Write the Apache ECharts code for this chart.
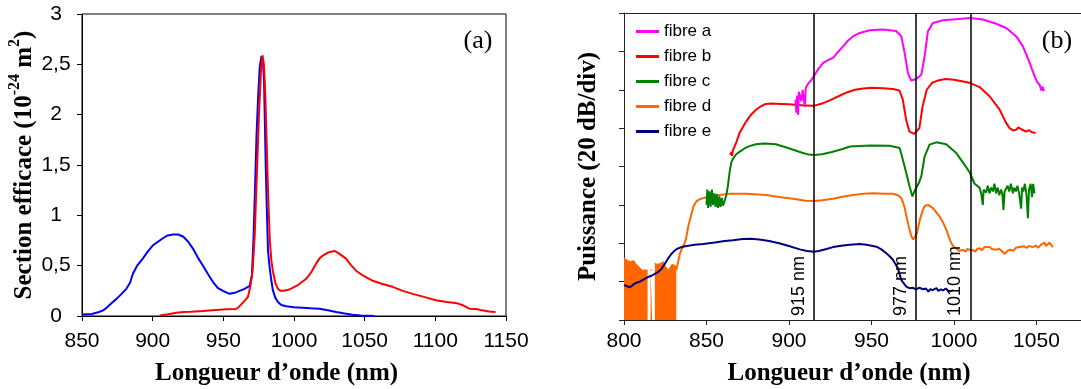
<!DOCTYPE html>
<html><head><meta charset="utf-8">
<script src="https://cdn.jsdelivr.net/npm/echarts@6/dist/echarts.min.js"></script>
<style>html,body{margin:0;padding:0;background:#fff}#c{width:1081px;height:389px}</style>
</head><body><div id="c"></div>
<script>
// ---------- Panel (a): cross sections (10^-24 m^2) ----------
const absX = [850,857,862,865,868,871,874.4,878,881.4,884,886,889,893,896.5,900,904,907,910.5,914.4,918,921.5,925,928.5,932,935.6,939,942.6,946,949.7,954.4,958,961.5,965,968.6,970.2,971.3,972.5,973.5,974.7,975.8,977,978,978.8,979.4,980,980.6,981.6,982.7,984,985,986.8,988.6,991,994.5,1000,1006.2,1012,1018,1024,1029.8,1036,1041.5,1047,1053,1057];
const absY = [0.015,0.02,0.04,0.056,0.09,0.13,0.17,0.22,0.27,0.33,0.42,0.5,0.57,0.64,0.7,0.74,0.77,0.8,0.81,0.81,0.79,0.74,0.67,0.58,0.5,0.42,0.34,0.28,0.25,0.22,0.23,0.25,0.27,0.3,0.4,0.75,1.3,1.8,2.2,2.48,2.58,2.52,2.35,1.91,1.5,1.15,0.65,0.49,0.35,0.26,0.18,0.14,0.11,0.096,0.088,0.083,0.078,0.073,0.058,0.04,0.025,0.013,0.006,0.003,0.0];
const emiX = [905,910,916.7,922,927,935.6,942,947.4,952,959,961,963,965,967.4,969.2,970.7,972.2,973.7,975.2,976.7,977.7,978.7,979.7,980.7,981.7,982.9,984,985,986.8,988.6,990.5,993,996,999,1003,1008.6,1012,1015.6,1018,1020.4,1024,1028.6,1032,1036.8,1040,1043.9,1049,1055.7,1062,1069.8,1077,1084,1092,1100.4,1108,1114.5,1119,1124,1129,1133,1138,1142.6];
const emiY = [0.005,0.015,0.033,0.04,0.042,0.05,0.058,0.063,0.066,0.07,0.09,0.12,0.15,0.19,0.3,0.45,0.8,1.4,2.0,2.45,2.59,2.5,2.2,1.7,1.2,0.75,0.55,0.45,0.33,0.27,0.25,0.25,0.26,0.28,0.31,0.37,0.43,0.52,0.57,0.6,0.63,0.646,0.62,0.57,0.51,0.45,0.4,0.35,0.32,0.29,0.25,0.22,0.19,0.156,0.14,0.13,0.11,0.073,0.07,0.056,0.045,0.04];
const aXTicks = {min:850, max:1150, step:50};
const aYTicks = {min:0, max:3, step:0.5};

// ---------- Panel (b): spectra (divisions of 20 dB) ----------
const fibA_X = [904,904.5,905,905.5,906,906.8,907.5,908.3,909,909.6,910.2,911,912,913.5,915,918,920.7,923,926.7,929,932.8,935.5,938.8,942.9,948.9,957,965,968.1,970.1,972.1,974.1,977.1,980.2,982.2,984.2,987.2,993.3,1001.4,1009.5,1017.6,1025.6,1031.7,1037.8,1041.8,1045.9,1048.9,1050.5,1051.9,1053,1053.6,1054.6];
const fibA_Y = [5.75,5.4,5.85,5.35,5.95,6.0,5.7,6.0,6.05,5.55,6.05,6.1,6.18,6.25,6.35,6.55,6.7,6.76,6.83,6.95,7.13,7.27,7.39,7.48,7.55,7.57,7.53,7.39,6.96,6.44,6.24,6.28,6.39,6.87,7.52,7.74,7.81,7.84,7.87,7.83,7.72,7.61,7.39,7.13,6.7,6.35,6.2,6.13,5.98,6.08,5.96];
const fibB_X = [864.5,865,865.5,866,868,870,872,874,877,880,883,886,890,895,900,905,910,915,920,925,930,935,940,945,950,957,963,967,969,971,973,976,979,981,983.5,987,991,995,1000,1004,1009.5,1015.5,1021.6,1027.7,1031.7,1033.7,1035.8,1037.8,1039,1040.8,1042,1043.8,1045.5,1047,1049.5];
const fibB_Y = [4.3,4.38,4.28,4.42,4.62,4.87,5.02,5.17,5.35,5.48,5.57,5.63,5.64,5.63,5.62,5.6,5.59,5.58,5.64,5.73,5.83,5.93,6.0,6.03,6.05,6.04,6.02,5.98,5.74,5.22,4.91,4.85,5.0,5.57,6.0,6.19,6.25,6.28,6.26,6.23,6.18,6.07,5.83,5.48,5.13,5.0,4.94,4.96,5.02,4.97,5.02,4.91,4.95,4.9,4.87];
const fibC_X = [850,850.5,851,851.8,852.5,853.3,854,854.8,855.5,856.3,857,857.8,858.5,859.3,860,861,862,863,864,865,866,868,870,873,876,880,885,892,898,903,908,912,915,920,926,932,937,949,961,967.1,970.1,973.1,974.8,976,977.1,978.5,980.2,982.2,985.2,989.3,995.3,1001.4,1005.5,1009.5,1012.5,1015.5,1016.5,1017.5,1018,1019.5,1020.5,1021.5,1022.5,1023.6,1024.5,1025.5,1026.5,1027.5,1028.5,1029.3,1030,1030.7,1031.5,1032.5,1033.5,1034.5,1035.7,1036.5,1037.5,1038.5,1039.5,1040.7,1041.3,1042,1043,1044,1044.8,1045.5,1046.5,1047.3,1048,1048.8];
const fibC_Y = [3.0,3.4,2.92,3.35,2.95,3.4,3.0,3.3,2.95,3.28,2.92,3.22,2.95,3.18,2.98,3.1,3.25,3.5,3.85,4.1,4.2,4.32,4.38,4.47,4.53,4.58,4.6,4.58,4.5,4.43,4.36,4.31,4.3,4.32,4.38,4.45,4.52,4.55,4.54,4.48,4.0,3.48,3.22,3.35,3.44,3.55,3.74,4.26,4.57,4.63,4.58,4.35,4.1,3.85,3.55,3.45,3.3,3.0,3.4,3.32,3.5,3.3,3.45,3.35,3.55,3.3,3.45,3.25,3.4,3.3,2.87,3.35,3.4,3.5,3.35,3.55,3.3,3.45,3.35,3.5,3.3,2.9,3.45,3.35,3.55,3.25,2.65,3.4,3.55,3.2,3.55,3.3];
// fibre d: noisy low-power part (dropouts to zero), drawn as filled envelope; null = no signal
const fibDnoise_X = [800,801,802,803,804,805,806,807,808,809,810,811,812,813,814.3,815,816.1,817.1,818,818.7,820,821,822,823,824,825,826,827,828,829,830,831,831.7];
const fibDnoise_Y = [1.62,1.6,1.55,1.58,1.52,1.5,1.55,1.48,1.5,1.38,1.42,1.3,1.32,1.3,1.3,null,1.3,1.3,null,1.48,1.45,1.5,1.47,1.5,1.52,1.4,1.45,1.3,1.35,1.45,1.4,1.42,1.3];
const fibD_X = [831.7,833,834,835,836,837.5,839,840.5,842,844,846,850,854,858,864,874,886,895,902.5,910,915,920,926.7,933,938.8,945,951,958,963,966,968.2,970,971.2,972.8,974.3,975.3,976.2,977.5,979.3,981,982.3,984.3,985.3,987.4,989.4,991.3,993.3,995.4,997,998.4,1000,1001.5,1003,1004,1005.5,1007,1008,1009.5,1011.5,1013,1014,1015.5,1017,1018.5,1019.5,1021.6,1023,1025.6,1027,1029,1030.5,1031.7,1033,1034.7,1036,1037.5,1039.8,1041,1042.5,1044,1045.8,1047.5,1049.8,1051,1052.5,1054.9,1055.8,1056.9,1057.9,1059,1059.9];
const fibD_Y = [1.3,1.55,1.75,1.85,1.92,2.1,2.45,2.7,2.95,3.1,3.15,3.2,3.22,3.26,3.29,3.29,3.26,3.2,3.16,3.11,3.1,3.12,3.16,3.22,3.26,3.29,3.3,3.29,3.29,3.25,3.17,2.95,2.7,2.4,2.17,2.1,2.09,2.25,2.61,2.85,2.97,3.0,2.96,2.91,2.8,2.7,2.55,2.35,2.15,2.0,1.9,1.87,1.8,1.85,1.83,1.78,1.85,1.83,1.82,1.78,1.85,1.87,1.82,1.9,1.91,1.9,1.85,1.83,1.86,1.8,1.72,1.7,1.82,1.83,1.8,1.88,1.9,1.86,1.92,1.88,1.93,1.9,1.94,1.88,1.95,2.02,1.93,1.88,2.02,1.95,1.9];
const fibE_X = [800,802,803.4,805,806.5,809.5,812,814.5,817,820.6,822.5,824.7,826.7,828.7,830.5,832,834.8,838,842.8,848,855,861,866,872,877,882,888,894,900,906.5,911,915,918,922.7,926.7,932.8,937,942.8,947,953,956,959,961,963,966,968.1,971.1,973,975.2,977,979,981.3,983,984.5,985.5,987,989.4,990.5,992,993.4,995,997,999.5];
const fibE_Y = [0.91,0.88,0.85,0.9,0.95,1.0,1.06,1.12,1.16,1.25,1.32,1.46,1.6,1.72,1.8,1.85,1.9,1.93,1.96,1.98,2.02,2.06,2.08,2.11,2.12,2.1,2.06,2.0,1.93,1.84,1.8,1.78,1.8,1.85,1.9,1.94,1.96,1.98,1.96,1.91,1.84,1.74,1.66,1.57,1.35,1.04,0.87,0.83,0.84,0.8,0.84,0.8,0.82,0.74,0.8,0.78,0.83,0.76,0.8,0.77,0.82,0.74,0.78];
const markerNm = [915, 977, 1010];
const fibreNames = ['fibre a','fibre b','fibre c','fibre d','fibre e'];
const fibreColors = ['#FF00FF','#FF0000','#008000','#FF6600','#000080'];
const bXTicks = {min:800, max:1077, step:50};
const bYTicks = {min:0, max:8, step:1};

const zip = (xs, ys) => xs.map((x, i) => [x, ys[i] == null ? '-' : ys[i]]);
const SANS = '"Liberation Sans", Arial, sans-serif';
const SERIF = '"Liberation Serif", "Times New Roman", serif';
const AX = '#222';
const legendText = {fontFamily: SANS, fontSize: 17, color: '#000'};

const chart = echarts.init(document.getElementById('c'), null, {renderer: 'canvas'});
const lineS = (name, xi, data, color, w) => ({
  type: 'line', name, xAxisIndex: xi, yAxisIndex: xi, data,
  showSymbol: false, symbol: 'none', smooth: false, silent: true,
  lineStyle: {color, width: w}, itemStyle: {color}, emphasis: {disabled: true}
});

const sE = lineS('fibre e', 1, zip(fibE_X, fibE_Y), fibreColors[4], 2);
sE.markLine = {
  silent: true, symbol: ['none', 'none'],
  lineStyle: {color: '#000', width: 1.5, type: 'solid'},
  label: {show: true, position: 'insideStartTop', formatter: '{b}', fontFamily: SANS, fontSize: 18, color: '#000', distance: [4, 6]},
  data: markerNm.map(v => ({xAxis: v, name: v + ' nm'}))
};
const sDn = lineS('fibre d', 1, zip(fibDnoise_X, fibDnoise_Y), fibreColors[3], 1);
sDn.areaStyle = {color: fibreColors[3], opacity: 1};
sDn.connectNulls = false;

const tickFmt = v => (v % 50 === 0 ? String(v) : '');

const option = {
  animation: false,
  backgroundColor: '#fff',
  grid: [
    {left: 82, top: 14, right: 575, bottom: 73, containLabel: false, outerBoundsMode: 'none',
     show: true, borderColor: '#000', borderWidth: 1, backgroundColor: 'transparent'},
    {left: 624, top: 13, right: 0, bottom: 69, containLabel: false, outerBoundsMode: 'none', show: false}
  ],
  xAxis: [
    {type: 'value', gridIndex: 0, min: aXTicks.min, max: aXTicks.max, interval: aXTicks.step,
     axisLine: {lineStyle: {color: '#000'}}, axisTick: {length: 5, lineStyle: {color: '#000'}},
     axisLabel: {fontSize: 21, fontFamily: SANS, color: '#000', margin: 15, formatter: v => String(v)}, splitLine: {show: false},
     name: 'Longueur d’onde (nm)', nameLocation: 'middle', nameGap: 45,
     nameTextStyle: {fontFamily: SERIF, fontWeight: 'bold', fontSize: 25, color: '#000', padding: [0, 35, 0, 0]}},
    {type: 'value', gridIndex: 1, min: bXTicks.min, max: bXTicks.max, interval: bXTicks.step,
     axisLine: {lineStyle: {color: AX}}, axisTick: {length: 5, lineStyle: {color: AX}},
     axisLabel: {fontSize: 21, fontFamily: SANS, color: '#000', margin: 11, showMaxLabel: false, formatter: tickFmt}, splitLine: {show: false},
     name: 'Longueur d’onde (nm)', nameLocation: 'middle', nameGap: 41,
     nameTextStyle: {fontFamily: SERIF, fontWeight: 'bold', fontSize: 25, color: '#000', padding: [0, 7, 0, 0]}},
    {type: 'value', gridIndex: 1, position: 'top', min: bXTicks.min, max: bXTicks.max, interval: bXTicks.step,
     axisLine: {show: true, lineStyle: {color: AX}}, axisTick: {show: false}, axisLabel: {show: false}, splitLine: {show: false}}
  ],
  yAxis: [
    {type: 'value', gridIndex: 0, min: aYTicks.min, max: aYTicks.max, interval: aYTicks.step,
     axisLine: {show: true, lineStyle: {color: '#000'}}, axisTick: {show: true, length: 5, lineStyle: {color: '#000'}},
     axisLabel: {fontSize: 21, fontFamily: SANS, color: '#000', margin: 26, align: 'center',
       formatter: v => String(v).replace('.', ',')}, splitLine: {show: false},
     name: '{t|Section efficace (10}{s|-24}{t| m}{s|2}{t|)}', nameLocation: 'middle', nameGap: 45, nameRotate: 90,
     nameTextStyle: {rich: {
       t: {fontFamily: SERIF, fontWeight: 'bold', fontSize: 25, color: '#000', verticalAlign: 'bottom', lineHeight: 30},
       s: {fontFamily: SERIF, fontWeight: 'bold', fontSize: 16, color: '#000', verticalAlign: 'top', lineHeight: 30}
     }}},
    {type: 'value', gridIndex: 1, min: bYTicks.min, max: bYTicks.max, interval: bYTicks.step,
     axisLine: {show: true, lineStyle: {color: AX}}, axisTick: {show: true, length: 5, lineStyle: {color: AX}},
     axisLabel: {show: false}, splitLine: {show: false},
     name: 'Puissance (20 dB/div)', nameLocation: 'middle', nameGap: 23, nameRotate: 90,
     nameTextStyle: {fontFamily: SERIF, fontWeight: 'bold', fontSize: 25, color: '#000'}}
  ],
  legend: {
    data: fibreNames.map(n => ({name: n, textStyle: legendText})),
    orient: 'vertical', left: 631, top: 18, itemGap: 8,
    itemWidth: 23, itemHeight: 3, icon: 'rect', selectedMode: false,
    textStyle: legendText
  },
  graphic: [
    {type: 'text', x: 478, y: 41, style: {text: '(a)', fontFamily: SERIF, fontSize: 26, fill: '#000', align: 'center', verticalAlign: 'middle'}},
    {type: 'text', x: 1057, y: 41, style: {text: '(b)', fontFamily: SERIF, fontSize: 26, fill: '#000', align: 'center', verticalAlign: 'middle'}}
  ],
  series: [
    lineS('absorption', 0, zip(absX, absY), '#0000FF', 2),
    lineS('émission', 0, zip(emiX, emiY), '#FF0000', 2),
    sDn,
    lineS('fibre d', 1, zip(fibD_X, fibD_Y), fibreColors[3], 2),
    sE,
    lineS('fibre c', 1, zip(fibC_X, fibC_Y), fibreColors[2], 2),
    lineS('fibre b', 1, zip(fibB_X, fibB_Y), fibreColors[1], 2),
    lineS('fibre a', 1, zip(fibA_X, fibA_Y), fibreColors[0], 2)
  ]
};
chart.setOption(option);
</script></body></html>
